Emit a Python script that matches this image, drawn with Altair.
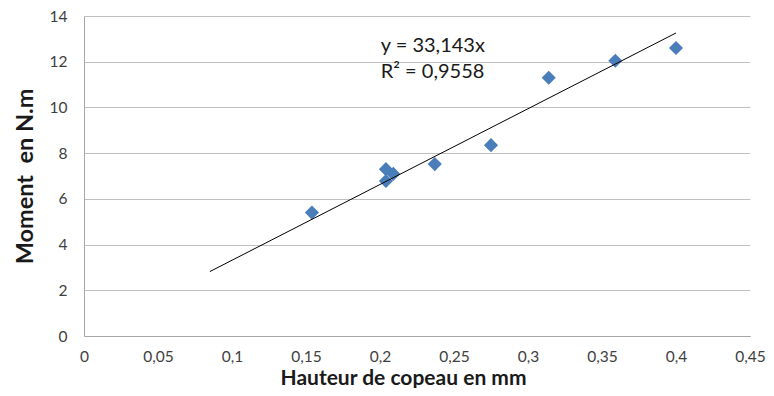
import altair as alt
import pandas as pd

# Measured points
hauteur = [0.154, 0.204, 0.204, 0.209, 0.237, 0.275, 0.314, 0.359, 0.400]
moment = [5.40, 7.30, 6.78, 7.09, 7.52, 8.35, 11.30, 12.04, 12.60]

# Linear trend line y = 33,143x
slope = 33.143
trend_x = [0.085, 0.400]

# Equation labels
eq_text = ["y = 33,143x", "R² = 0,9558"]
eq_x = [0.2005, 0.2005]
eq_y = [12.7, 11.55]

x_ticks = [0, 0.05, 0.1, 0.15, 0.2, 0.25, 0.3, 0.35, 0.4, 0.45]
y_ticks = [0, 2, 4, 6, 8, 10, 12, 14]

FONT = "Lato"

pts = pd.DataFrame({"x": hauteur, "y": moment})
trend = pd.DataFrame({"x": trend_x, "y": [slope * v for v in trend_x]})
eq = pd.DataFrame({"x": eq_x, "y": eq_y, "t": eq_text})

xscale = alt.Scale(domain=[0, 0.45], nice=False, zero=True)
yscale = alt.Scale(domain=[0, 14], nice=False)

x_axis = alt.Axis(
    title="Hauteur de copeau en mm",
    values=x_ticks,
    labelExpr="replace(format(datum.value, '.2~f'), '.', ',')",
    grid=False,
    ticks=False,
    domainColor="#a6a6a6",
    labelFont=FONT,
    labelFontSize=15.5,
    labelColor="#404040",
    labelPadding=13,
    titleFont=FONT,
    titleFontSize=21,
    titleFontWeight="bold",
    titleColor="#1a1a1a",
    titlePadding=3,
    titleX=319,
    titleAlign="center",
    labelFlush=False,
    labelOverlap=False,
)
y_axis = alt.Axis(
    title="Moment\u00a0 en N.m",
    values=y_ticks,
    grid=True,
    gridColor="#bfbfbf",
    gridWidth=1,
    ticks=False,
    domainColor="#a6a6a6",
    labelFont=FONT,
    labelFontSize=15.5,
    labelColor="#404040",
    labelPadding=17,
    titleFont=FONT,
    titleFontSize=23.5,
    titleFontWeight="bold",
    titleColor="#1a1a1a",
    titlePadding=12,
)

points = alt.Chart(pts).mark_point(
    shape="diamond", filled=True, size=200, color="#4a7ebb", opacity=1
).encode(
    x=alt.X("x:Q", scale=xscale, axis=x_axis),
    y=alt.Y("y:Q", scale=yscale, axis=y_axis),
)

line = alt.Chart(trend).mark_line(color="#000000", strokeWidth=1).encode(
    x=alt.X("x:Q", scale=xscale),
    y=alt.Y("y:Q", scale=yscale),
)

text = alt.Chart(eq).mark_text(
    align="left", baseline="middle", font=FONT, fontSize=20, color="#1a1a1a"
).encode(
    x=alt.X("x:Q", scale=xscale),
    y=alt.Y("y:Q", scale=yscale),
    text="t:N",
)

chart = (
    alt.layer(points, line, text)
    .properties(
        width=666,
        height=320,
        padding={"left": 76, "top": 8, "right": 16, "bottom": 52},
        autosize=alt.AutoSizeParams(type="none"),
    )
    .configure_view(stroke=None)
)

chart.save("out.html", embed_options={"renderer": "svg", "actions": False})
